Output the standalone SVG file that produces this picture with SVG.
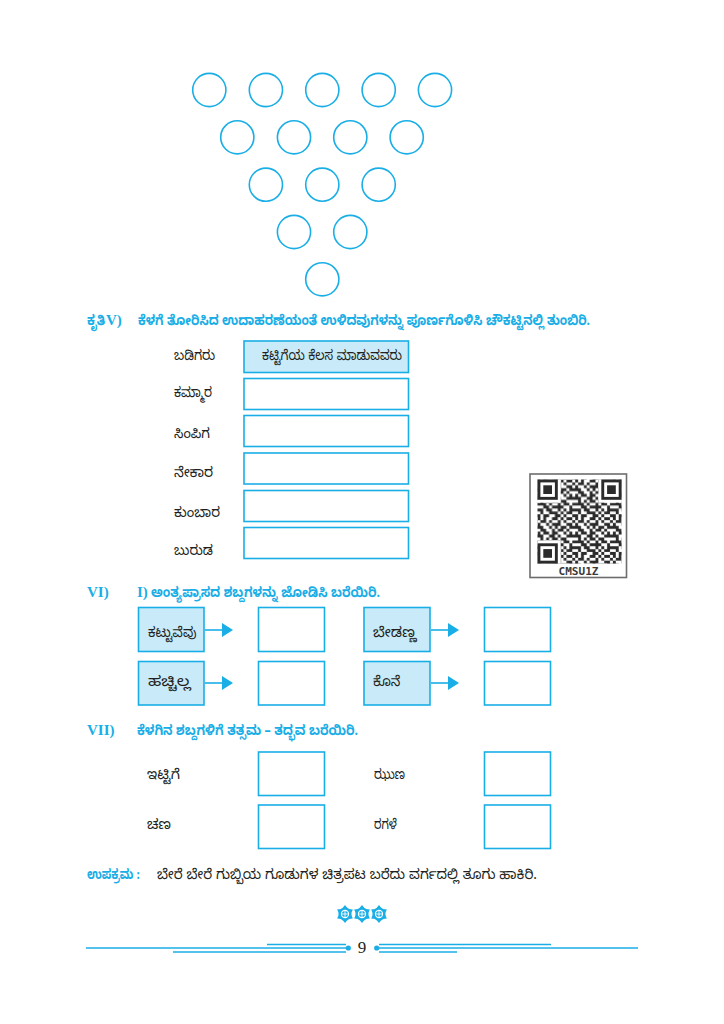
<svg xmlns="http://www.w3.org/2000/svg" width="724" height="1024" viewBox="0 0 724 1024">
<style>
.ring{fill:none;stroke:#1aaee6;stroke-width:1.6}
.box{fill:#ffffff;stroke:#1aaee6;stroke-width:1.6}
.boxf{fill:#c8eaf9;stroke:#1aaee6;stroke-width:1.6}
.kn{font-family:"Noto Sans Kannada","Noto Sans","DejaVu Sans",sans-serif;font-size:14px;fill:#231f20}
.knh{font-family:"Noto Sans Kannada","Noto Sans","DejaVu Sans",sans-serif;font-size:14px;font-weight:bold;fill:#1aaee6}
.rom{font-family:"Liberation Serif",serif;font-size:15px;font-weight:bold;fill:#1aaee6}
.ln{stroke:#1aaee6;stroke-width:1.6;fill:none}
.fl{stroke:#1aaee6;stroke-width:1.5}
</style>
<defs>
<marker id="ah" markerUnits="userSpaceOnUse" markerWidth="12" markerHeight="14" refX="0" refY="7" orient="auto">
<path d="M0,0 L11,7 L0,14 z" fill="#1aaee6"/>
</marker>
<pattern id="qrp" patternUnits="userSpaceOnUse" x="537.5" y="479.5" width="37.7" height="37.7">
<path transform="scale(2.9)" fill="#2b2b2b" d="M0 0h1v1h-1zM2 0h1v1h-1zM5 0h2v1h-2zM8 0h1v1h-1zM10 0h2v1h-2zM1 1h2v1h-2zM4 1h1v1h-1zM7 1h1v1h-1zM9 1h1v1h-1zM12 1h1v1h-1zM0 2h1v1h-1zM3 2h1v1h-1zM5 2h3v1h-3zM10 2h2v1h-2zM0 3h2v1h-2zM4 3h1v1h-1zM6 3h1v1h-1zM8 3h2v1h-2zM11 3h2v1h-2zM1 4h2v1h-2zM5 4h1v1h-1zM7 4h2v1h-2zM10 4h1v1h-1zM0 5h1v1h-1zM2 5h2v1h-2zM5 5h2v1h-2zM9 5h1v1h-1zM11 5h1v1h-1zM0 6h2v1h-2zM4 6h2v1h-2zM7 6h1v1h-1zM10 6h3v1h-3zM1 7h1v1h-1zM3 7h1v1h-1zM5 7h2v1h-2zM8 7h2v1h-2zM0 8h3v1h-3zM4 8h1v1h-1zM7 8h1v1h-1zM9 8h2v1h-2zM12 8h1v1h-1zM2 9h2v1h-2zM5 9h4v1h-4zM11 9h1v1h-1zM0 10h2v1h-2zM3 10h2v1h-2zM7 10h1v1h-1zM9 10h1v1h-1zM11 10h2v1h-2zM1 11h1v1h-1zM4 11h3v1h-3zM8 11h1v1h-1zM10 11h2v1h-2zM0 12h1v1h-1zM2 12h2v1h-2zM6 12h2v1h-2zM9 12h1v1h-1zM12 12h1v1h-1z"/>
</pattern>
<g id="finder">
<rect x="0" y="0" width="20.3" height="20.3" fill="#2b2b2b"/>
<rect x="2.9" y="2.9" width="14.5" height="14.5" fill="#ffffff"/>
<rect x="5.8" y="5.8" width="8.7" height="8.7" fill="#2b2b2b"/>
</g>
<g id="flower">
<circle r="6.6" fill="#1aaee6"/>
<polygon points="0,-9 2.4,-6 -2.4,-6" fill="#1aaee6"/>
<polygon points="0,9 2.4,6 -2.4,6" fill="#1aaee6"/>
<polygon points="7.8,-4.5 6.4,-0.9 4,-5.1" fill="#1aaee6"/>
<polygon points="7.8,4.5 6.4,0.9 4,5.1" fill="#1aaee6"/>
<polygon points="-7.8,-4.5 -6.4,-0.9 -4,-5.1" fill="#1aaee6"/>
<polygon points="-7.8,4.5 -6.4,0.9 -4,5.1" fill="#1aaee6"/>
<circle r="3.6" fill="none" stroke="#ffffff" stroke-width="1.1"/>
<path d="M-3.6,0H3.6M0,-3.6V3.6" stroke="#ffffff" stroke-width="0.9"/>
</g>
</defs>
<rect width="724" height="1024" fill="#ffffff"/>

<g id="circles">
<circle class="ring" cx="209.3" cy="90" r="16.6"/>
<circle class="ring" cx="265.9" cy="90" r="16.6"/>
<circle class="ring" cx="322.3" cy="90" r="16.6"/>
<circle class="ring" cx="378.7" cy="90" r="16.6"/>
<circle class="ring" cx="435" cy="90" r="16.6"/>
<circle class="ring" cx="237.3" cy="137.3" r="16.6"/>
<circle class="ring" cx="294" cy="137.3" r="16.6"/>
<circle class="ring" cx="350.3" cy="137.3" r="16.6"/>
<circle class="ring" cx="406.7" cy="137.3" r="16.6"/>
<circle class="ring" cx="265.9" cy="184.7" r="16.6"/>
<circle class="ring" cx="322.3" cy="184.7" r="16.6"/>
<circle class="ring" cx="378.7" cy="184.7" r="16.6"/>
<circle class="ring" cx="294" cy="232" r="16.6"/>
<circle class="ring" cx="350.3" cy="232" r="16.6"/>
<circle class="ring" cx="322.3" cy="279.3" r="16.6"/>
</g>

<g id="section-v">
<text class="knh" x="87" y="325" textLength="18" lengthAdjust="spacingAndGlyphs">ಕೃತಿ</text>
<text class="rom" x="106" y="325">V)</text>
<text class="knh" x="138" y="325" textLength="452" lengthAdjust="spacingAndGlyphs">ಕೆಳಗೆ ತೋರಿಸಿದ ಉದಾಹರಣೆಯಂತೆ ಉಳಿದವುಗಳನ್ನು ಪೂರ್ಣಗೊಳಿಸಿ ಚೌಕಟ್ಟಿನಲ್ಲಿ ತುಂಬಿರಿ.</text>
</g>

<g id="row-badigaru">
<text class="kn" x="174" y="360" textLength="41" lengthAdjust="spacingAndGlyphs">ಬಡಿಗರು</text>
<rect class="boxf" x="244" y="341" width="164.5" height="31.5"/>
<text class="kn" x="262" y="360" textLength="140" lengthAdjust="spacingAndGlyphs">ಕಟ್ಟಿಗೆಯ ಕೆಲಸ ಮಾಡುವವರು</text>
</g>
<g id="row-kammara">
<text class="kn" x="174" y="397" textLength="38" lengthAdjust="spacingAndGlyphs">ಕಮ್ಮಾರ</text>
<rect class="box" x="244" y="378.5" width="164.5" height="31"/>
</g>
<g id="row-simpiga">
<text class="kn" x="174" y="438" textLength="36" lengthAdjust="spacingAndGlyphs">ಸಿಂಪಿಗ</text>
<rect class="box" x="244" y="415.5" width="164.5" height="31"/>
</g>
<g id="row-nekara">
<text class="kn" x="174" y="477" textLength="39" lengthAdjust="spacingAndGlyphs">ನೇಕಾರ</text>
<rect class="box" x="244" y="453" width="164.5" height="31"/>
</g>
<g id="row-kumbara">
<text class="kn" x="174" y="517" textLength="46" lengthAdjust="spacingAndGlyphs">ಕುಂಬಾರ</text>
<rect class="box" x="244" y="490.5" width="164.5" height="31"/>
</g>
<g id="row-buruda">
<text class="kn" x="174" y="555" textLength="39" lengthAdjust="spacingAndGlyphs">ಬುರುಡ</text>
<rect class="box" x="244" y="527.5" width="164.5" height="31"/>
</g>

<g id="qr">
<rect x="530" y="474" width="96.5" height="103.5" fill="#ffffff" stroke="#6d6d6d" stroke-width="1.6"/>
<rect x="537.5" y="479.5" width="84.1" height="84.1" fill="url(#qrp)"/>
<rect x="537.5" y="479.5" width="23.2" height="23.2" fill="#ffffff"/>
<rect x="598.4" y="479.5" width="23.2" height="23.2" fill="#ffffff"/>
<rect x="537.5" y="540.4" width="23.2" height="23.2" fill="#ffffff"/>
<use href="#finder" x="537.5" y="479.5"/>
<use href="#finder" x="601.3" y="479.5"/>
<use href="#finder" x="537.5" y="543.3"/>
<text x="578.5" y="575" text-anchor="middle" font-family="'DejaVu Sans Mono',monospace" font-weight="bold" font-size="11" fill="#3a3a3a" textLength="40" lengthAdjust="spacingAndGlyphs">CMSU1Z</text>
</g>

<g id="section-vi">
<text class="rom" x="87" y="597">VI)</text>
<text class="rom" x="137" y="597">I)</text>
<text class="knh" x="151" y="597" textLength="229" lengthAdjust="spacingAndGlyphs">ಅಂತ್ಯಪ್ರಾಸದ ಶಬ್ದಗಳನ್ನು ಜೋಡಿಸಿ ಬರೆಯಿರಿ.</text>
</g>
<g id="vi-kattuvevu">
<rect class="boxf" x="138.5" y="607.5" width="65.5" height="44"/>
<text class="kn" x="148" y="637" textLength="48.5" lengthAdjust="spacingAndGlyphs">ಕಟ್ಟುವೆವು</text>
</g>
<g id="vi-ans1"><rect class="box" x="258.5" y="607.5" width="66" height="44"/></g>
<g id="vi-bedanna">
<rect class="boxf" x="364" y="607.5" width="66" height="44"/>
<text class="kn" x="373" y="637" textLength="43.5" lengthAdjust="spacingAndGlyphs">ಬೇಡಣ್ಣ</text>
</g>
<g id="vi-ans2"><rect class="box" x="484.5" y="607.5" width="66" height="44"/></g>
<g id="vi-hacchilla">
<rect class="boxf" x="138.5" y="661.5" width="65.5" height="43.5"/>
<text class="kn" x="148" y="686" textLength="42.5" lengthAdjust="spacingAndGlyphs">ಹಚ್ಚಿಲ್ಲ</text>
</g>
<g id="vi-ans3"><rect class="box" x="258.5" y="661.5" width="66" height="43.5"/></g>
<g id="vi-kone">
<rect class="boxf" x="364" y="661.5" width="66" height="43.5"/>
<text class="kn" x="373" y="686" textLength="27.5" lengthAdjust="spacingAndGlyphs">ಕೊನೆ</text>
</g>
<g id="vi-ans4"><rect class="box" x="484.5" y="661.5" width="66" height="43.5"/></g>

<g id="connectors">
<line class="ln" x1="205" y1="630" x2="222" y2="630" marker-end="url(#ah)"/>
<line class="ln" x1="431" y1="630" x2="448" y2="630" marker-end="url(#ah)"/>
<line class="ln" x1="205" y1="683" x2="222" y2="683" marker-end="url(#ah)"/>
<line class="ln" x1="431" y1="683" x2="448" y2="683" marker-end="url(#ah)"/>
</g>

<g id="section-vii">
<text class="rom" x="87" y="735">VII)</text>
<text class="knh" x="137" y="735" textLength="221" lengthAdjust="spacingAndGlyphs">ಕೆಳಗಿನ ಶಬ್ದಗಳಿಗೆ ತತ್ಸಮ – ತದ್ಭವ ಬರೆಯಿರಿ.</text>
</g>
<g id="vii-ittige">
<text class="kn" x="147" y="779" textLength="33" lengthAdjust="spacingAndGlyphs">ಇಟ್ಟಿಗೆ</text>
<rect class="box" x="258.5" y="752" width="66" height="43.5"/>
</g>
<g id="vii-jhuna">
<text class="kn" x="374" y="779" textLength="31" lengthAdjust="spacingAndGlyphs">ಝುಣ</text>
<rect class="box" x="484.5" y="752" width="66" height="43.5"/>
</g>
<g id="vii-chana">
<text class="kn" x="147" y="829" textLength="24" lengthAdjust="spacingAndGlyphs">ಚಣ</text>
<rect class="box" x="258.5" y="805" width="66" height="43.5"/>
</g>
<g id="vii-ragale">
<text class="kn" x="374" y="829" textLength="23" lengthAdjust="spacingAndGlyphs">ರಗಳೆ</text>
<rect class="box" x="484.5" y="805" width="66" height="43.5"/>
</g>

<g id="upakrama">
<text class="knh" x="87" y="879" font-weight="normal" textLength="53" lengthAdjust="spacingAndGlyphs">ಉಪಕ್ರಮ :</text>
<text class="kn" x="157" y="879" textLength="380" lengthAdjust="spacingAndGlyphs">ಬೇರೆ ಬೇರೆ ಗುಬ್ಬಿಯ ಗೂಡುಗಳ ಚಿತ್ರಪಟ ಬರೆದು ವರ್ಗದಲ್ಲಿ ತೂಗು ಹಾಕಿರಿ.</text>
</g>

<g id="footer">
<use href="#flower" x="345" y="914"/>
<use href="#flower" x="362" y="914"/>
<use href="#flower" x="379" y="914"/>
<line class="fl" x1="267" y1="944.5" x2="346" y2="944.5"/>
<line class="fl" x1="86" y1="948" x2="348" y2="948"/>
<line class="fl" x1="173" y1="952" x2="346" y2="952"/>
<circle cx="348.3" cy="948" r="2.6" fill="#1aaee6"/>
<line class="fl" x1="379" y1="944.5" x2="551" y2="944.5"/>
<line class="fl" x1="376.5" y1="948" x2="638" y2="948"/>
<line class="fl" x1="379" y1="952" x2="457" y2="952"/>
<circle cx="376.7" cy="948" r="2.6" fill="#1aaee6"/>
<text x="362" y="953" text-anchor="middle" font-family="'Liberation Serif',serif" font-size="17" fill="#231f20">9</text>
</g>
</svg>
